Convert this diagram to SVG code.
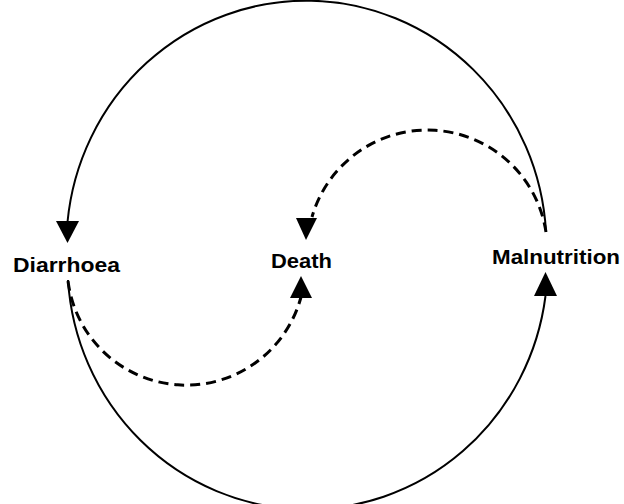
<svg xmlns="http://www.w3.org/2000/svg" width="624" height="504" viewBox="0 0 624 504">
<style>
.solid{fill:none;stroke:#000;stroke-width:2}
.dash{fill:none;stroke:#000;stroke-width:3;stroke-dasharray:10 6}
.head{fill:#000}
.lbl{font-family:"Liberation Sans",Arial,sans-serif;font-size:21px;font-weight:bold;fill:#000}
</style>
<rect width="624" height="504" fill="#fff"/>
<g id="connectors">
<path class="solid" d="M 546 232 A 240 245 0 0 0 67.5 222"/>
<path class="solid" d="M 68 280 A 240 245 0 0 0 545.5 296"/>
<path class="dash" d="M 546 232 A 120 120 0 0 0 312 217"/>
<path class="dash" d="M 68 281 A 119 119 0 0 0 301 297"/>
<polygon class="head" points="56,221 79,221 67.5,243"/>
<polygon class="head" points="296,218 317,218 306,240"/>
<polygon class="head" points="290,298 312,298 301,276"/>
<polygon class="head" points="534,296 557,296 545.5,272"/>
</g>
<g id="diarrhoea"><text class="lbl" x="13" y="272" textLength="107" lengthAdjust="spacingAndGlyphs">Diarrhoea</text></g>
<g id="death"><text class="lbl" x="271" y="268" textLength="61" lengthAdjust="spacingAndGlyphs">Death</text></g>
<g id="malnutrition"><text class="lbl" x="492" y="264" textLength="128" lengthAdjust="spacingAndGlyphs">Malnutrition</text></g>
</svg>
